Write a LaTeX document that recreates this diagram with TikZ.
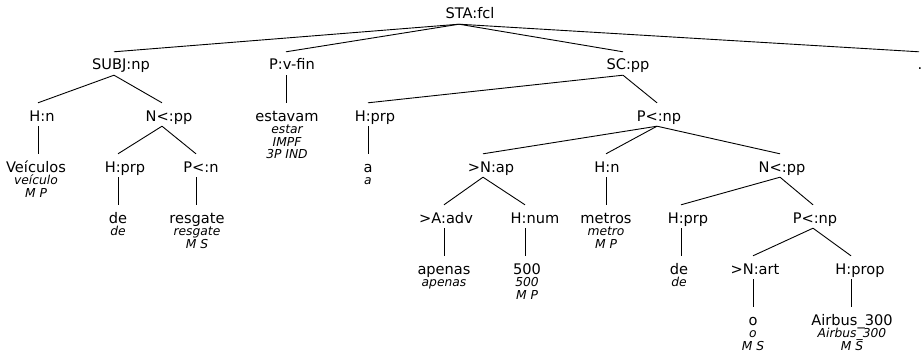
\documentclass[tikz,border=0pt]{standalone}
\usepackage{fontspec}
\setmainfont{DejaVu Sans}
\begin{document}
\begin{tikzpicture}[x=1pt,y=-1pt,
  lab/.style={font=\fontsize{14.6}{16}\selectfont, inner sep=0pt, text height=18pt, text depth=5pt, anchor=base},
  lem/.style={font=\fontsize{12.3}{13}\selectfont\itshape, inner sep=0pt, anchor=base},
  conn/.style={line width=0.9pt, black}]
\useasboundingbox (0,0) rectangle (923,353);
\newcommand\E[4]{\draw[conn] ([xshift=#2pt]#1.south) -- ([xshift=#4pt]#3.north);}
% level 0
\node[lab] (sta) at (470,19) {STA:fcl};
% level 1
\node[lab] (subj) at (121,70) {SUBJ:np};
\node[lab] (pvfin) at (292,70) {P:v-fin};
\node[lab] (scpp) at (628,70) {SC:pp};
\node[lab] (dot) at (920,70) {.};
% level 2
\node[lab] (hn1) at (42,121) {H:n};
\node[lab] (npp1) at (169,121) {N<:pp};
\node[lab] (estavam) at (287,121) {estavam};
\node[lem] (estavam1) at (287,133.5) {estar};
\node[lem] (estavam2) at (287,146) {IMPF};
\node[lem] (estavam3) at (287,158) {3P IND};
\node[lab] (hprp1) at (375,121) {H:prp};
\node[lab] (pnp1) at (659,121) {P<:np};
% level 3
\node[lab] (veiculos) at (36,172) {Veículos};
\node[lem] (veiculos1) at (36,184.5) {veículo};
\node[lem] (veiculos2) at (36,197) {M P};
\node[lab] (hprp2) at (125,172) {H:prp};
\node[lab] (pn) at (201,172) {P<:n};
\node[lab] (a) at (368,172) {a};
\node[lem] (a1) at (368,184.5) {a};
\node[lab] (nap) at (491,172) {>N:ap};
\node[lab] (hn2) at (607,172) {H:n};
\node[lab] (npp2) at (782,172) {N<:pp};
% level 4
\node[lab] (de1) at (118,223) {de};
\node[lem] (de1a) at (118,235.5) {de};
\node[lab] (resgate) at (197,223) {resgate};
\node[lem] (resgate1) at (197,235.5) {resgate};
\node[lem] (resgate2) at (197,248) {M S};
\node[lab] (aadv) at (446,223) {>A:adv};
\node[lab] (hnum) at (535,223) {H:num};
\node[lab] (metros) at (606,223) {metros};
\node[lem] (metros1) at (606,235.5) {metro};
\node[lem] (metros2) at (606,248) {M P};
\node[lab] (hprp3) at (688,223) {H:prp};
\node[lab] (pnp2) at (815,223) {P<:np};
% level 5
\node[lab] (apenas) at (444,274) {apenas};
\node[lem] (apenas1) at (444,286.5) {apenas};
\node[lab] (n500) at (527,274) {500};
\node[lem] (n5001) at (527,286.5) {500};
\node[lem] (n5002) at (527,299) {M P};
\node[lab] (de2) at (679,274) {de};
\node[lem] (de2a) at (679,286.5) {de};
\node[lab] (nart) at (755,274) {>N:art};
\node[lab] (hprop) at (860,274) {H:prop};
% level 6
\node[lab] (o) at (753,325) {o};
\node[lem] (o1) at (753,337.5) {o};
\node[lem] (o2) at (753,350) {M S};
\node[lab] (airbus) at (852,325) {Airbus\_300};
\node[lem] (airbus1) at (852,337.5) {Airbus\_300};
\node[lem] (airbus2) at (852,350) {M S};
% connectors
\E{sta}{-11}{subj}{-7}
\E{sta}{-11}{pvfin}{-6}
\E{sta}{-11}{scpp}{-5}
\E{sta}{-11}{dot}{-1}
\E{subj}{-7}{hn1}{-4}
\E{subj}{-7}{npp1}{-7}
\E{hn1}{-4}{veiculos}{2}
\E{npp1}{-7}{hprp2}{-7}
\E{npp1}{-7}{pn}{-5}
\E{hprp2}{-7}{de1}{0}
\E{pn}{-5}{resgate}{-1}
\E{pvfin}{-6}{estavam}{-1}
\E{scpp}{-5}{hprp1}{-7}
\E{scpp}{-5}{pnp1}{-2}
\E{hprp1}{-7}{a}{0}
\E{pnp1}{-2}{nap}{-8}
\E{pnp1}{-2}{hn2}{-1}
\E{pnp1}{-2}{npp2}{-2}
\E{nap}{-8}{aadv}{-2}
\E{nap}{-8}{hnum}{-10}
\E{aadv}{-2}{apenas}{0}
\E{hnum}{-10}{n500}{-2}
\E{hn2}{-1}{metros}{0}
\E{npp2}{-2}{hprp3}{-7}
\E{npp2}{-2}{pnp2}{-2}
\E{hprp3}{-7}{de2}{2}
\E{pnp2}{-2}{nart}{-2}
\E{pnp2}{-2}{hprop}{-9}
\E{nart}{-2}{o}{0}
\E{hprop}{-9}{airbus}{-1}
\end{tikzpicture}
\end{document}
